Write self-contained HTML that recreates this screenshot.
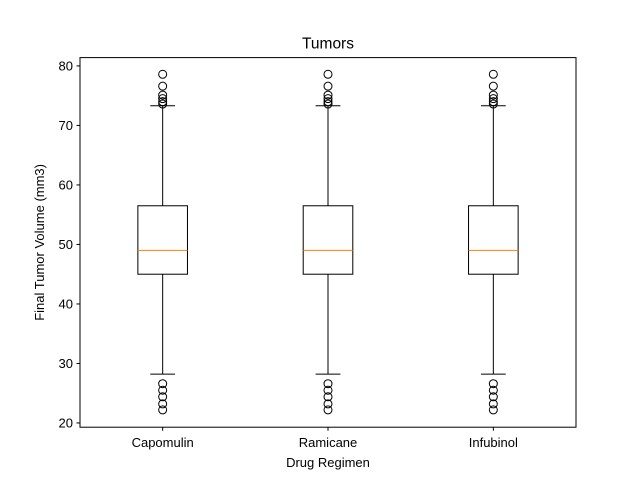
<!DOCTYPE html>
<html><head><meta charset="utf-8"><style>body{margin:0;background:#fff}svg{display:block;font-family:"Liberation Sans","DejaVu Sans",sans-serif}</style></head>
<body>
<svg id="c" width="640" height="480"></svg>
<script>
const categories=["Capomulin","Ramicane","Infubinol"];
const q1=[45.0,45.0,45.0];
const medians=[49.0,49.0,49.0];
const q3=[56.5,56.5,56.5];
const whiskLo=[28.2,28.2,28.2];
const whiskHi=[73.3,73.3,73.3];
const outliersHi=[[78.6,76.6,75.1,74.5,74.0,73.6],[78.6,76.6,75.1,74.5,74.0,73.6],[78.6,76.6,75.1,74.5,74.0,73.6]];
const outliersLo=[[26.6,25.5,24.4,23.2,22.2],[26.6,25.5,24.4,23.2,22.2],[26.6,25.5,24.4,23.2,22.2]];
const yTicks=[20,30,40,50,60,70,80];
const L=80,R=576,T=57.6,B=427.2,ymin=19.29,ymax=81.4;
const x=i=>L+(i+1-0.5)/3*(R-L);
const y=v=>B-(v-ymin)/(ymax-ymin)*(B-T);
const s=document.getElementById('c');const NS="http://www.w3.org/2000/svg";
function mk(t,a,p){const e=document.createElementNS(NS,t);for(const k in a)e.setAttribute(k,a[k]);(p||s).appendChild(e);return e;}
const bw=0.3/3*(R-L);
categories.forEach((c,i)=>{
 const g=mk('g',{});
 
 
 const cx=x(i);
 mk('line',{x1:cx,x2:cx,y1:y(q1[i]),y2:y(whiskLo[i]),stroke:'#000'},g);
 mk('line',{x1:cx,x2:cx,y1:y(q3[i]),y2:y(whiskHi[i]),stroke:'#000'},g);
 mk('line',{x1:cx-bw/4,x2:cx+bw/4,y1:y(whiskLo[i]),y2:y(whiskLo[i]),stroke:'#000'},g);
 mk('line',{x1:cx-bw/4,x2:cx+bw/4,y1:y(whiskHi[i]),y2:y(whiskHi[i]),stroke:'#000'},g);
 mk('rect',{x:cx-bw/2,y:y(q3[i]),width:bw,height:y(q1[i])-y(q3[i]),fill:'none',stroke:'#000'},g);
 mk('line',{x1:cx-bw/2,x2:cx+bw/2,y1:y(medians[i]),y2:y(medians[i]),stroke:'#ff7f0e'},g);
 outliersHi[i].concat(outliersLo[i]).forEach(v=>{
  const o=mk('circle',{cx:cx,cy:y(v),r:4,fill:'none',stroke:'#000'},g);
  
  
 });
 mk('line',{x1:cx,x2:cx,y1:B,y2:B+3.5,stroke:'#000'});
 const t=mk('text',{x:cx,y:B+20,'font-size':13,'text-anchor':'middle'});t.textContent=c;
 
 
});
yTicks.forEach(v=>{
 mk('line',{x1:L-3.5,x2:L,y1:y(v),y2:y(v),stroke:'#000'});
 const t=mk('text',{x:L-7,y:y(v)+4.5,'font-size':13,'text-anchor':'end'});t.textContent=v;
 
 
});
const fr=mk('rect',{x:L,y:T,width:R-L,height:B-T,fill:'none',stroke:'#000'});


let t=mk('text',{x:(L+R)/2,y:T-9,'font-size':15.5,'text-anchor':'middle'});t.textContent='Tumors';


t=mk('text',{x:(L+R)/2,y:467,'font-size':13,'text-anchor':'middle'});t.textContent='Drug Regimen';


t=mk('text',{x:0,y:0,'font-size':13,'text-anchor':'middle',transform:`translate(44,${(T+B)/2}) rotate(-90)`});t.textContent='Final Tumor Volume (mm3)';


</script>
</body></html>
